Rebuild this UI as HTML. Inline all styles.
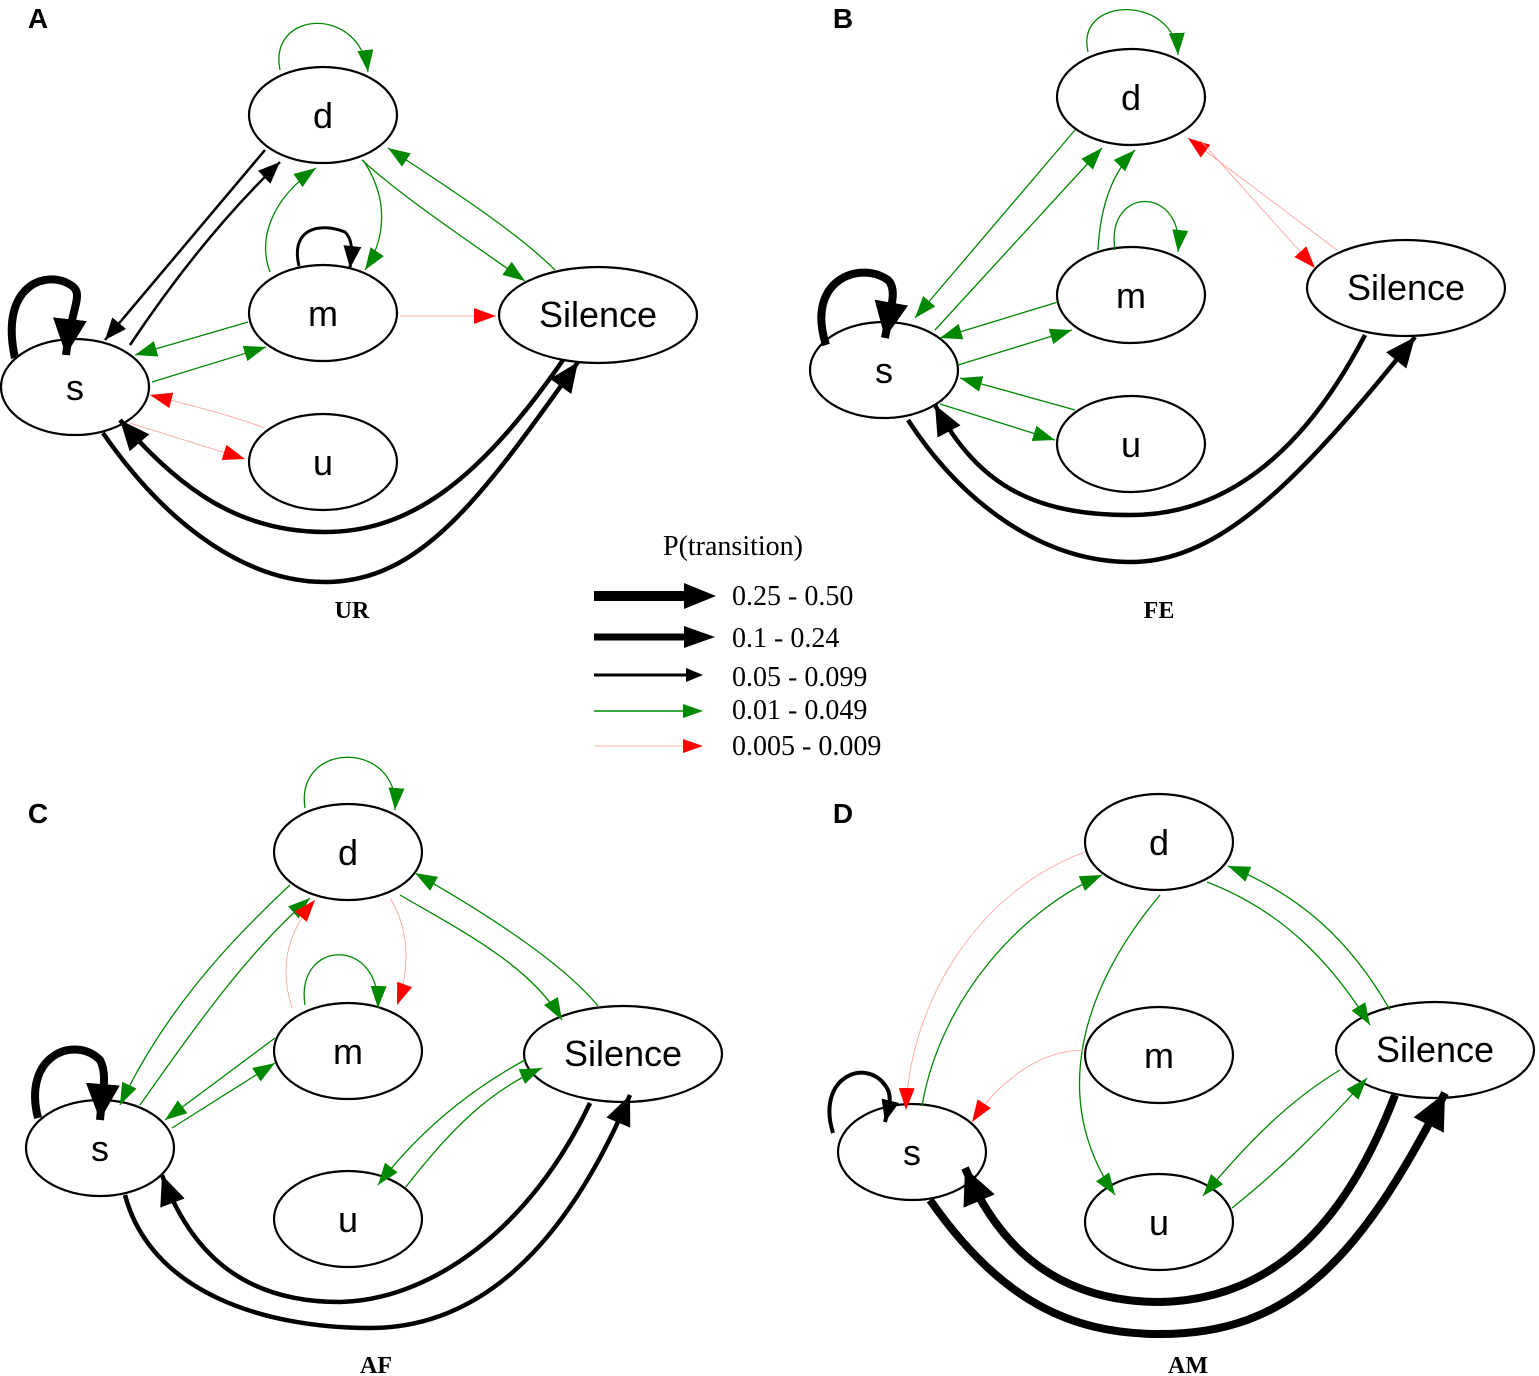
<!DOCTYPE html>
<html><head><meta charset="utf-8"><style>html,body{margin:0;padding:0;background:#fff}svg{display:block}</style></head>
<body>
<svg width="1539" height="1376" viewBox="0 0 1539 1376" xmlns="http://www.w3.org/2000/svg">
<defs>
<marker id="bb" markerUnits="userSpaceOnUse" markerWidth="40" markerHeight="36" refX="36" refY="17" orient="auto"><path d="M0,0 L36,17 L0,34 z" fill="#000"/></marker>
<marker id="bm" markerUnits="userSpaceOnUse" markerWidth="32" markerHeight="28" refX="30" refY="13" orient="auto"><path d="M0,0 L30,13 L0,26 z" fill="#000"/></marker>
<marker id="bs" markerUnits="userSpaceOnUse" markerWidth="24" markerHeight="20" refX="22" refY="9" orient="auto"><path d="M0,0 L22,9 L0,18 z" fill="#000"/></marker>
<marker id="g" markerUnits="userSpaceOnUse" markerWidth="24" markerHeight="18" refX="22" refY="8" orient="auto"><path d="M0,0 L22,8 L0,16 z" fill="#080"/></marker>
<marker id="r" markerUnits="userSpaceOnUse" markerWidth="24" markerHeight="18" refX="22" refY="8" orient="auto"><path d="M0,0 L22,8 L0,16 z" fill="#f00"/></marker>
</defs>

<g fill="#fff" stroke="#000" stroke-width="2.2">
<ellipse cx="323" cy="115" rx="74" ry="48"/>
<ellipse cx="323" cy="313" rx="74" ry="48"/>
<ellipse cx="598" cy="315" rx="99" ry="48"/>
<ellipse cx="75" cy="387" rx="74" ry="48"/>
<ellipse cx="323" cy="462" rx="74" ry="48"/>
<ellipse cx="1131" cy="97" rx="74" ry="48"/>
<ellipse cx="1131" cy="295" rx="74" ry="48"/>
<ellipse cx="1406" cy="288" rx="99" ry="48"/>
<ellipse cx="884" cy="370" rx="74" ry="48"/>
<ellipse cx="1131" cy="444" rx="74" ry="48"/>
<ellipse cx="348" cy="852" rx="74" ry="48"/>
<ellipse cx="348" cy="1051" rx="74" ry="48"/>
<ellipse cx="623" cy="1054" rx="99" ry="48"/>
<ellipse cx="100" cy="1148" rx="74" ry="48"/>
<ellipse cx="348" cy="1219" rx="74" ry="48"/>
<ellipse cx="1159" cy="842" rx="74" ry="48"/>
<ellipse cx="1159" cy="1055" rx="74" ry="48"/>
<ellipse cx="1435" cy="1050" rx="99" ry="48"/>
<ellipse cx="912" cy="1152" rx="74" ry="48"/>
<ellipse cx="1159" cy="1222" rx="74" ry="48"/>
</g>

<g fill="none">
<!-- Panel A -->
<g stroke="#080" stroke-width="1.3" marker-end="url(#g)">
<path d="M280,70 C268,10 360,5 368,72"/>
<path d="M363,160 C390,200 385,240 365,270"/>
<path d="M270,272 C258,240 270,200 316,168"/>
<path d="M362,160 C400,195 460,235 525,281"/>
<path d="M555,270 C520,235 460,195 388,148"/>
<path d="M248,322 L135,355"/>
<path d="M152,382 L266,347"/>
</g>
<g stroke="#f99" stroke-width="0.8" marker-end="url(#r)">
<path d="M400,316 L496,316"/>
<path d="M265,428 C230,415 190,405 150,395"/>
<path d="M130,423 L245,459"/>
</g>
<g stroke="#000" stroke-width="2.5" marker-end="url(#bs)">
<path d="M265,150 L105,340"/>
<path d="M130,345 C180,270 230,210 280,162"/>
</g>
<path d="M299,266 C290,228 320,222 345,232 C353,240 352,250 350,268" stroke="#000" stroke-width="3" marker-end="url(#bs)"/>
<path d="M15,358 C0,290 40,272 65,282 C88,292 72,300 66,355" stroke="#000" stroke-width="8" marker-end="url(#bb)"/>
<path d="M563,360 C480,480 410,532 325,532 C240,532 180,490 120,420" stroke="#000" stroke-width="4.5" marker-end="url(#bm)"/>
<path d="M103,433 C170,530 250,582 325,582 C420,582 480,500 578,362" stroke="#000" stroke-width="4.5" marker-end="url(#bm)"/>

<!-- Panel B -->
<g stroke="#080" stroke-width="1.3" marker-end="url(#g)">
<path d="M1088,52 C1075,-5 1175,-5 1178,55"/>
<path d="M1075,130 L915,318"/>
<path d="M935,330 L1102,148"/>
<path d="M1098,250 C1100,210 1110,175 1135,150"/>
<path d="M1115,250 C1105,185 1185,185 1178,252"/>
<path d="M1058,302 L940,338"/>
<path d="M958,365 L1072,330"/>
<path d="M1075,410 L960,378"/>
<path d="M940,404 L1055,440"/>
</g>
<g stroke="#f99" stroke-width="0.8" marker-end="url(#r)">
<path d="M1337,250 L1188,138"/>
<path d="M1200,140 L1315,268"/>
</g>
<path d="M826,345 C805,280 860,260 888,280 C898,290 890,310 885,338" stroke="#000" stroke-width="8" marker-end="url(#bb)"/>
<path d="M1365,335 C1300,460 1220,515 1131,515 C1040,515 980,490 935,405" stroke="#000" stroke-width="4.5" marker-end="url(#bm)"/>
<path d="M908,420 C960,500 1040,562 1131,562 C1220,562 1300,480 1415,337" stroke="#000" stroke-width="4.5" marker-end="url(#bm)"/>

<!-- Panel C -->
<g stroke="#080" stroke-width="1.3" marker-end="url(#g)">
<path d="M305,808 C295,740 400,740 395,810"/>
<path d="M290,885 C220,950 160,1020 120,1105"/>
<path d="M140,1105 C200,1020 250,950 310,898"/>
<path d="M305,1005 C295,940 380,935 378,1008"/>
<path d="M400,895 C460,930 530,965 562,1020"/>
<path d="M598,1006 C560,960 480,910 415,873"/>
<path d="M275,1038 L165,1120"/>
<path d="M172,1128 L275,1063"/>
<path d="M525,1060 C470,1090 420,1130 378,1185"/>
<path d="M405,1188 C450,1130 490,1090 542,1068"/>
</g>
<g stroke="#f99" stroke-width="0.8" marker-end="url(#r)">
<path d="M292,1008 C280,970 285,935 315,900"/>
<path d="M390,898 C410,930 410,970 397,1005"/>
</g>
<path d="M38,1118 C22,1055 75,1035 100,1060 C108,1075 102,1095 100,1120" stroke="#000" stroke-width="8" marker-end="url(#bb)"/>
<path d="M590,1103 C530,1230 430,1300 340,1302 C240,1302 190,1250 162,1175" stroke="#000" stroke-width="4.5" marker-end="url(#bm)"/>
<path d="M125,1195 C150,1290 260,1328 370,1328 C470,1328 560,1260 630,1095" stroke="#000" stroke-width="4.5" marker-end="url(#bm)"/>

<!-- Panel D -->
<g stroke="#080" stroke-width="1.3" marker-end="url(#g)">
<path d="M922,1106 C940,1000 1020,910 1102,875"/>
<path d="M1207,882 C1280,910 1330,960 1370,1025"/>
<path d="M1390,1010 C1350,940 1300,895 1228,866"/>
<path d="M1160,895 C1080,990 1050,1100 1115,1195"/>
<path d="M1340,1070 C1290,1100 1250,1140 1203,1196"/>
<path d="M1232,1208 C1280,1170 1330,1120 1367,1078"/>
</g>
<g stroke="#f99" stroke-width="0.8" marker-end="url(#r)">
<path d="M1085,852 C980,890 910,1000 906,1110"/>
<path d="M1085,1050 C1040,1050 1000,1080 972,1122"/>
</g>
<path d="M833,1133 C815,1075 870,1055 888,1090 C892,1100 888,1110 885,1122" stroke="#000" stroke-width="4" marker-end="url(#bs)"/>
<path d="M1395,1095 C1340,1240 1260,1300 1160,1302 C1060,1302 1000,1250 965,1168" stroke="#000" stroke-width="8" marker-end="url(#bb)"/>
<path d="M930,1200 C1000,1300 1070,1334 1160,1334 C1290,1334 1360,1260 1445,1093" stroke="#000" stroke-width="8" marker-end="url(#bb)"/>

<!-- Legend -->
<path d="M594,596 L686,596" stroke="#000" stroke-width="10"/>
<path d="M684,583 L716,596 L684,609 z" fill="#000"/>
<path d="M594,637 L686,637" stroke="#000" stroke-width="7"/>
<path d="M684,626 L715,637 L684,648 z" fill="#000"/>
<path d="M594,675 L688,675" stroke="#000" stroke-width="3"/>
<path d="M686,668 L703,675 L686,682 z" fill="#000"/>
<path d="M594,711 L688,711" stroke="#080" stroke-width="1.5"/>
<path d="M683,704 L703,711 L683,718 z" fill="#080"/>
<path d="M594,746 L688,746" stroke="#f99" stroke-width="0.8"/>
<path d="M683,739 L703,746 L683,753 z" fill="#f00"/>
</g>

<g font-family="Liberation Sans, sans-serif" font-size="36" text-anchor="middle" fill="#000">
<text x="323" y="128">d</text><text x="323" y="326">m</text><text x="598" y="327">Silence</text><text x="75" y="400">s</text><text x="323" y="475">u</text>
<text x="1131" y="110">d</text><text x="1131" y="308">m</text><text x="1406" y="300">Silence</text><text x="884" y="383">s</text><text x="1131" y="457">u</text>
<text x="348" y="865">d</text><text x="348" y="1064">m</text><text x="623" y="1066">Silence</text><text x="100" y="1161">s</text><text x="348" y="1232">u</text>
<text x="1159" y="855">d</text><text x="1159" y="1068">m</text><text x="1435" y="1062">Silence</text><text x="912" y="1165">s</text><text x="1159" y="1235">u</text>
</g>
<g font-family="Liberation Sans, sans-serif" font-size="28" font-weight="bold" text-anchor="middle">
<text x="38" y="28">A</text><text x="843" y="28">B</text><text x="38" y="823">C</text><text x="843" y="823">D</text>
</g>
<g font-family="Liberation Serif, serif" font-size="24" font-weight="bold" text-anchor="middle">
<text x="352" y="618">UR</text><text x="1159" y="618">FE</text><text x="376" y="1373">AF</text><text x="1188" y="1373">AM</text>
</g>
<g font-family="Liberation Serif, serif" font-size="28">
<text x="733" y="555" text-anchor="middle">P(transition)</text>
<text x="732" y="605">0.25 - 0.50</text>
<text x="732" y="647">0.1 - 0.24</text>
<text x="732" y="686">0.05 - 0.099</text>
<text x="732" y="719">0.01 - 0.049</text>
<text x="732" y="755">0.005 - 0.009</text>
</g>
</svg>
</body></html>
